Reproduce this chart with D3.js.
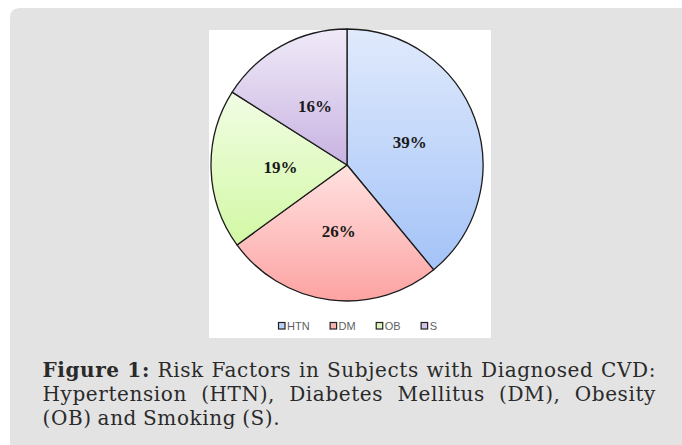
<!DOCTYPE html>
<html>
<head>
<meta charset="utf-8">
<script src="https://cdn.jsdelivr.net/npm/d3@7"></script>
<style>
  html, body { margin: 0; padding: 0; background: #ffffff; }
  svg { display: block; }
</style>
</head>
<body>
<svg id="fig" width="682" height="445"></svg>
<script>
// Risk factor shares (percent of subjects)
const categories = ["HTN", "DM", "OB", "S"];
const values = [39, 26, 19, 16];
// Gradient stops per slice: top colour, bottom colour
const topColors = ["#e0eafc", "#ffe2e1", "#f1fde4", "#f0eaf8"];
const bottomColors = ["#a4c3f8", "#fca3a2", "#d2f8a4", "#c8b3e2"];
const legendColors = ["#b9d2f8", "#f9b4b2", "#dcf6bd", "#d3c4ea"];

// Caption, one array per printed line
const captionBold = ["Figure", "1:"];
const captionLine1 = ["Risk", "Factors", "in", "Subjects", "with", "Diagnosed", "CVD:"];
const captionLine2 = ["Hypertension", "(HTN),", "Diabetes", "Mellitus", "(DM),", "Obesity"];
const captionLine3 = ["(OB)", "and", "Smoking", "(S)."];

const svg = d3.select("#fig");

// Grey figure panel with rounded top-left corner
svg.append("path")
  .attr("d", "M10,18 Q10,8 20,8 L682,8 L682,445 L10,445 Z")
  .attr("fill", "#e3e3e3");

// White chart area
const box = { x: 209, y: 30, w: 282, h: 308 };
svg.append("rect")
  .attr("x", box.x).attr("y", box.y)
  .attr("width", box.w).attr("height", box.h)
  .attr("fill", "#ffffff");

// Gradients
const defs = svg.append("defs");
categories.forEach((c, i) => {
  const g = defs.append("linearGradient")
    .attr("id", "grad-" + c)
    .attr("x1", 0).attr("y1", 0).attr("x2", 0).attr("y2", 1);
  g.append("stop").attr("offset", "0%").attr("stop-color", topColors[i]);
  g.append("stop").attr("offset", "100%").attr("stop-color", bottomColors[i]);
});

// Pie
const cx = 347, cy = 165, R = 136;
const pie = d3.pie().sort(null).value(d => d);
const arcs = pie(values);
const arc = d3.arc().innerRadius(0).outerRadius(R);
const labelArc = d3.arc().innerRadius(R * 0.49).outerRadius(R * 0.49);

const gPie = svg.append("g").attr("transform", `translate(${cx},${cy})`);
gPie.selectAll("path.slice")
  .data(arcs)
  .join("path")
  .attr("class", "slice")
  .attr("d", arc)
  .attr("fill", (d, i) => `url(#grad-${categories[i]})`)
  .attr("stroke", "#1c1c1c")
  .attr("stroke-width", 1.3)
  .attr("stroke-linejoin", "round");

gPie.selectAll("text.pct")
  .data(arcs)
  .join("text")
  .attr("class", "pct")
  .attr("transform", d => `translate(${labelArc.centroid(d)})`)
  .attr("text-anchor", "middle")
  .attr("dominant-baseline", "central")
  .attr("font-family", "'Liberation Serif', 'Times New Roman', serif")
  .attr("font-weight", "bold")
  .attr("font-size", 17)
  .attr("fill", "#1a1a1a")
  .text(d => d.data + "%");

// Legend
const legend = svg.append("g").attr("transform", "translate(278,322)");
let lx = 0;
categories.forEach((c, i) => {
  const item = legend.append("g").attr("transform", `translate(${lx},0)`);
  item.append("rect")
    .attr("x", 0.5).attr("y", 0.5)
    .attr("width", 6.5).attr("height", 6.5)
    .attr("fill", legendColors[i])
    .attr("stroke", "#222")
    .attr("stroke-width", 1.2);
  const t = item.append("text")
    .attr("x", 9).attr("y", 7.5)
    .attr("font-family", "'Liberation Sans', Arial, sans-serif")
    .attr("font-size", 11)
    .attr("fill", "#5f5f5f")
    .text(c);
  lx += 9 + t.node().getComputedTextLength() + 20;
});

// Caption, justified between the panel margins
const capLeft = 42.5, capRight = 656;
const capFont = "'DejaVu Serif', 'Liberation Serif', serif";
const capSize = 20;
const capSpacing = 0.6;
const capColor = "#2a2a2a";

function drawLine(words, boldCount, baseline, justify) {
  const g = svg.append("g");
  const nodes = words.map((w, i) =>
    g.append("text")
      .attr("y", baseline)
      .attr("font-family", capFont)
      .attr("font-size", capSize)
      .attr("letter-spacing", capSpacing)
      .attr("font-weight", i < boldCount ? "bold" : "normal")
      .attr("fill", capColor)
      .text(w));
  const widths = nodes.map(n => n.node().getComputedTextLength());
  const total = d3.sum(widths);
  const gap = justify ? (capRight - capLeft - total) / (words.length - 1) : capSize * 0.3;
  let x = capLeft;
  nodes.forEach((n, i) => { n.attr("x", x); x += widths[i] + gap; });
}

drawLine(captionBold.concat(captionLine1), captionBold.length, 377, true);
drawLine(captionLine2, 0, 401, true);
drawLine(captionLine3, 0, 424.5, false);
</script>
</body>
</html>
